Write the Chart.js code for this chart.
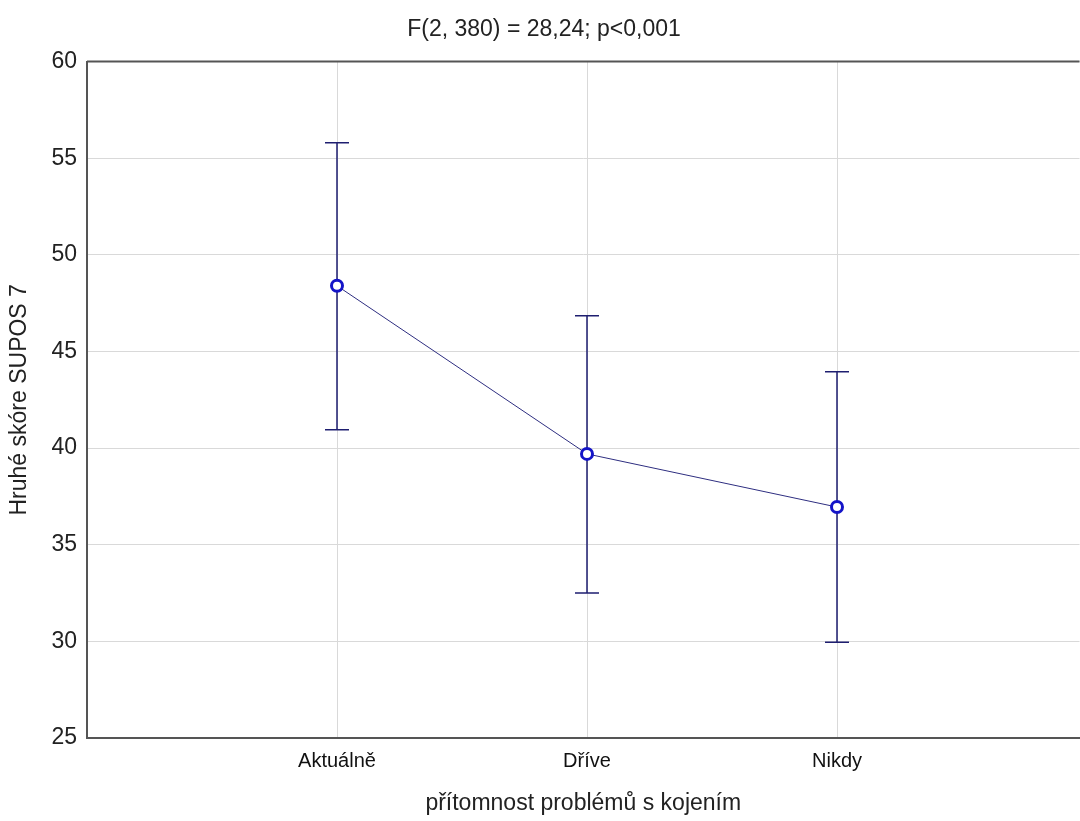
<!DOCTYPE html>
<html>
<head>
<meta charset="utf-8">
<script src="https://cdn.jsdelivr.net/npm/chart.js@4.4.1/dist/chart.umd.min.js"></script>
<style>
  html, body { margin: 0; padding: 0; background: #fff; overflow: hidden; }
  #wrap { width: 1088px; height: 821px; position: relative; }
</style>
</head>
<body>
<div id="wrap"><canvas id="chart"></canvas></div>
<script>
const categories = ["Aktuálně", "Dříve", "Nikdy"];
const means = [48.4, 39.7, 36.95];
const upper = [55.8, 46.85, 43.95];
const lower = [40.95, 32.5, 29.95];
const yTicks = [25, 30, 35, 40, 45, 50, 55, 60];

const FONT = "Liberation Sans, Arial, sans-serif";

const errorBars = {
  id: "errorBars",
  beforeDatasetsDraw(chart) {
    const { ctx, scales } = chart;
    ctx.save();
    ctx.strokeStyle = "#1e1e70";
    ctx.lineWidth = 1.5;
    categories.forEach((c, i) => {
      const x = scales.x.getPixelForValue(i);
      const yHi = scales.y.getPixelForValue(upper[i]);
      const yLo = scales.y.getPixelForValue(lower[i]);
      ctx.beginPath();
      ctx.moveTo(x, yHi); ctx.lineTo(x, yLo);
      ctx.moveTo(x - 12, yHi); ctx.lineTo(x + 12, yHi);
      ctx.moveTo(x - 12, yLo); ctx.lineTo(x + 12, yLo);
      ctx.stroke();
    });
    ctx.restore();
  }
};

const ctx = document.getElementById("chart").getContext("2d");
new Chart(ctx, {
  type: "line",
  data: {
    datasets: [{
      data: means.map((v, i) => ({ x: i, y: v })),
      borderColor: "#2e2e80",
      borderWidth: 1,
      pointRadius: 5.5,
      pointBorderWidth: 3,
      pointBorderColor: "#1414c8",
      pointBackgroundColor: "#ffffff",
      tension: 0
    }]
  },
  options: {
    responsive: true,
    maintainAspectRatio: false,
    animation: false,
    plugins: {
      legend: { display: false },
      tooltip: { enabled: false },
      title: {
        display: true,
        text: "F(2, 380) = 28,24; p<0,001",
        color: "#222",
        font: { family: FONT, size: 23, weight: "normal" },
        padding: { top: 16, bottom: 18 }
      }
    },
    scales: {
      x: {
        type: "linear",
        min: -1,
        max: 2.97,
        afterBuildTicks(axis) { axis.ticks = categories.map((c, i) => ({ value: i })); },
        afterFit(axis) { axis.height = 83; },
        ticks: {
          callback: (v) => categories[v],
          color: "#111",
          font: { family: FONT, size: 20 },
          padding: 11,
          maxRotation: 0
        },
        grid: { color: "#d9d9d9", drawTicks: false },
        border: { display: true, color: "#555", width: 2 },
        title: {
          display: true,
          text: "přítomnost problémů s kojením",
          color: "#222",
          font: { family: FONT, size: 23 },
          padding: { top: 10, bottom: 4 }
        }
      },
      y: {
        min: 25,
        max: 60,
        afterBuildTicks(axis) { axis.ticks = yTicks.map(v => ({ value: v })); },
        afterFit(axis) { axis.width = 87; },
        ticks: {
          color: "#222",
          font: { family: FONT, size: 23 },
          padding: 10
        },
        grid: { color: "#d9d9d9", drawTicks: false },
        border: { display: true, color: "#555", width: 2 },
        title: {
          display: true,
          text: "Hruhé skóre SUPOS 7",
          color: "#222",
          font: { family: FONT, size: 23 },
          padding: { top: 6, bottom: 0 }
        }
      }
    }
  },
  plugins: [errorBars, {
    id: "frame",
    afterDraw(chart) {
      const { ctx, chartArea } = chart;
      ctx.save();
      ctx.strokeStyle = "#555";
      ctx.lineWidth = 2;
      ctx.beginPath();
      ctx.moveTo(chartArea.left, chartArea.top);
      ctx.lineTo(chartArea.right, chartArea.top);
      ctx.stroke();
      ctx.restore();
    }
  }]
});
</script>
</body>
</html>
